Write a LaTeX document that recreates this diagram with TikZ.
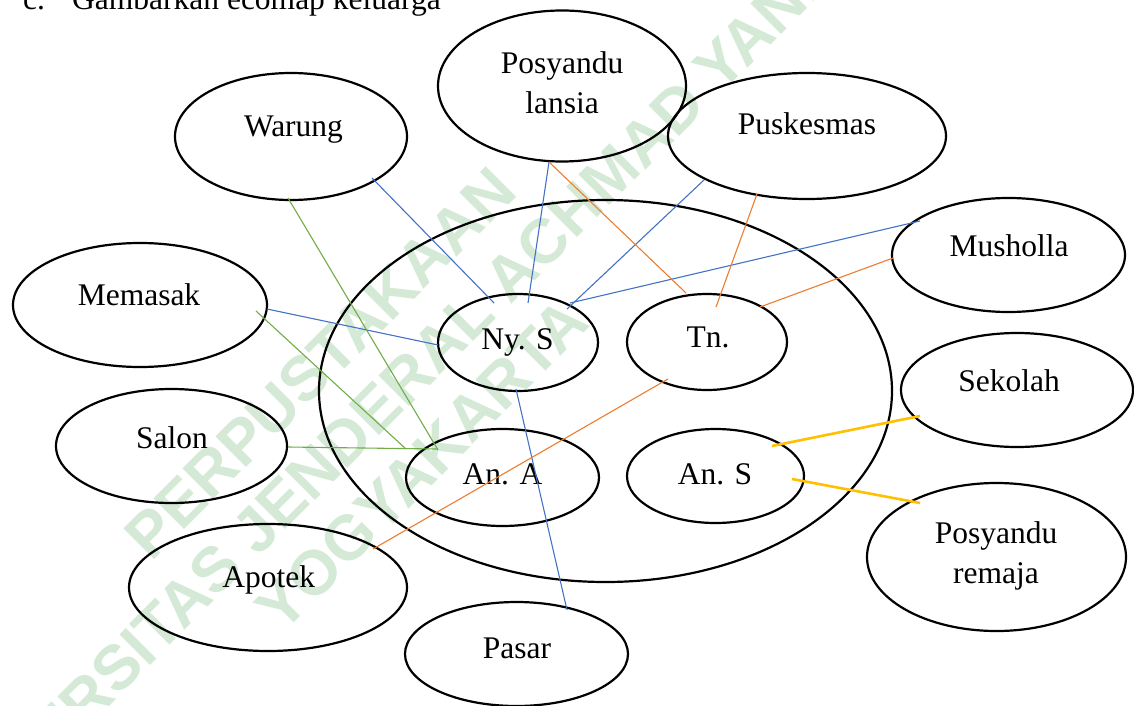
\documentclass[tikz,border=0pt]{standalone}
\usepackage{fontspec}
\setmainfont{Liberation Serif}
\newfontfamily\wmfont{Liberation Sans}
\usetikzlibrary{shapes.geometric,calc}
\definecolor{cblue}{HTML}{4472C4}
\definecolor{corange}{HTML}{ED7D31}
\definecolor{cgreen}{HTML}{70AD47}
\definecolor{cyellow}{HTML}{FFC000}
\definecolor{wmgreen}{RGB}{213,234,214}
\tikzset{
  ell/.style={ellipse, draw, line width=2.2pt, inner sep=0pt, outer sep=0pt},
  lbl/.style={anchor=base, inner sep=0pt, font=\fontsize{31.5}{40}\selectfont},
  lbltwo/.style={anchor=north, align=center, inner sep=0pt, font=\fontsize{31.5}{40}\selectfont},
  wm/.style={rotate=45, align=center, inner sep=0pt, text=wmgreen, font=\wmfont\bfseries\fontsize{63}{72}\selectfont},
  bline/.style={draw=cblue, line width=1.1pt},
  oline/.style={draw=corange, line width=1.1pt},
  gline/.style={draw=cgreen, line width=1.1pt},
  yline/.style={draw=cyellow, line width=2.6pt},
}
\begin{document}
\begin{tikzpicture}[x=1pt,y=-1pt]
\useasboundingbox (0,0) rectangle (1134,706);
\clip (0,0) rectangle (1134,706);
\fill[white] (0,0) rectangle (1134,706);
% watermark
\node[wm] (wmark) at (371,414) {PERPUSTAKAAN\\UNIVERSITAS JENDERAL ACHMAD YANI\\YOGYAKARTA};
% title
\node[anchor=base west, inner sep=0pt, font=\fontsize{31.5}{40}\selectfont] (tc) at (23,9.5) {c.};
\node[anchor=base west, inner sep=0pt, font=\fontsize{31.5}{40}\selectfont] (tg) at (72,9.5) {Gambarkan ecomap keluarga};
% ellipses
\node[ell, minimum width=573pt, minimum height=382pt] (big) at (605.5,391) {};
\node[ell, minimum width=232pt, minimum height=127pt] (warung) at (291,136.5) {};
\node[ell, minimum width=248pt, minimum height=151pt] (lansia) at (562,86) {};
\node[ell, minimum width=278pt, minimum height=126pt] (pusk) at (807,136) {};
\node[ell, minimum width=233pt, minimum height=114pt] (mush) at (1008.5,255) {};
\node[ell, minimum width=232pt, minimum height=114pt] (sekolah) at (1017,390) {};
\node[ell, minimum width=259pt, minimum height=148pt] (remaja) at (996.5,557) {};
\node[ell, minimum width=254pt, minimum height=124pt] (memasak) at (140,305) {};
\node[ell, minimum width=231pt, minimum height=114pt] (salon) at (171.5,446) {};
\node[ell, minimum width=278pt, minimum height=127pt] (apotek) at (268,587.5) {};
\node[ell, minimum width=223pt, minimum height=104pt] (pasar) at (516.5,654) {};
\node[ell, minimum width=160pt, minimum height=97pt] (nys) at (518,342.5) {};
\node[ell, minimum width=160pt, minimum height=96pt] (tn) at (707,342) {};
\node[ell, minimum width=193pt, minimum height=97pt] (ana) at (502.5,477.5) {};
\node[ell, minimum width=177pt, minimum height=94pt] (ans) at (715.5,476) {};
% labels
\node[lbl] (twarung) at (293.5,136) {Warung};
\node[lbltwo] (tlansia) at (562,51.5) {Posyandu\\lansia};
\node[lbl] (tpusk) at (807,134) {Puskesmas};
\node[lbl] (tmush) at (1009,256) {Musholla};
\node[lbl] (tsekolah) at (1009,391) {Sekolah};
\node[lbltwo] (tremaja) at (996,521.5) {Posyandu\\remaja};
\node[lbl] (tmemasak) at (139,305) {Memasak};
\node[lbl] (tsalon) at (172,448) {Salon};
\node[lbl] (tapotek) at (268.7,587) {Apotek};
\node[lbl] (tpasar) at (517,658) {Pasar};
\node[lbl] (tnys) at (517.5,349) {Ny. S};
\node[lbl] (ttn) at (708,347) {Tn.};
\node[lbl] (tana) at (502.5,484) {An. A};
\node[lbl] (tans) at (715,484) {An. S};
% blue connectors
\draw[bline] ($(warung)+(81,41.5)$) -- ($(nys)+(-24,-39.5)$);
\draw[bline] ($(lansia)+(-13,76)$) -- ($(nys)+(10,-39.5)$);
\draw[bline] ($(pusk)+(-103,44)$) -- ($(nys)+(49,-33.5)$);
\draw[bline] ($(mush)+(-88.5,-34)$) -- ($(nys)+(52,-39.5)$);
\draw[bline] ($(memasak)+(127,4)$) -- ($(nys)+(-80,2.5)$);
\draw[bline] ($(nys)+(-2,46.5)$) -- ($(pasar)+(50.5,-44)$);
% orange connectors
\draw[oline] ($(lansia)+(-13,76)$) -- ($(tn)+(-21,-49)$);
\draw[oline] ($(pusk)+(-50,58)$) -- ($(tn)+(9,-35)$);
\draw[oline] ($(mush)+(-115.5,3)$) -- ($(tn)+(53,-35)$);
\draw[oline] ($(tn)+(-39,37)$) -- ($(apotek)+(105,-38.5)$);
% green connectors
\draw[gline] ($(warung)+(-3,61.5)$) -- ($(ana)+(-64.5,-27.5)$);
\draw[gline] ($(memasak)+(116,6)$) -- ($(ana)+(-96.5,-28.5)$);
\draw[gline] ($(salon)+(116.5,1)$) -- ($(ana)+(-65.5,-28.5)$);
% yellow connectors
\draw[yline] ($(ans)+(56.5,-30)$) -- ($(sekolah)+(-97,26)$);
\draw[yline] ($(ans)+(76.5,3)$) -- ($(remaja)+(-76.5,-54)$);
\end{tikzpicture}
\end{document}
